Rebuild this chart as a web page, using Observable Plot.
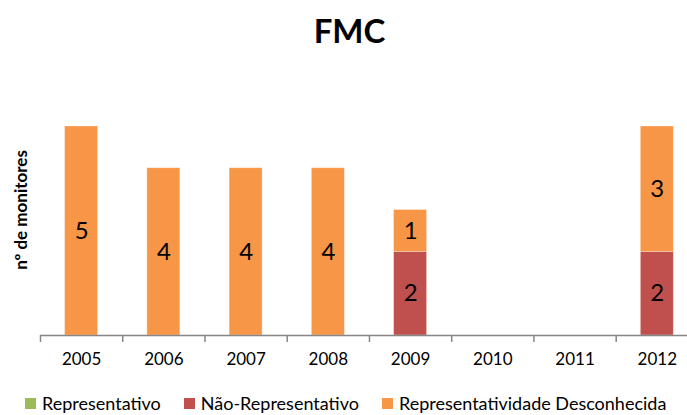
<!DOCTYPE html>
<html>
<head>
<meta charset="utf-8">
<script src="https://cdn.jsdelivr.net/npm/d3@7"></script>
<script src="https://cdn.jsdelivr.net/npm/@observablehq/plot@0.6"></script>
<style>
  body { margin: 0; background: #fff; font-family: Lato, "Open Sans", sans-serif; }
  #wrap { width: 687px; height: 415px; position: relative; overflow: hidden; }
  #title { height: 70px; font-weight: bold; font-size: 33px; color: #000; text-align: center; line-height: 60px; padding-left: 12px; box-sizing: border-box; }
  #ylab { position: absolute; left: 20px; top: 210px; transform: translate(-50%, -50%) rotate(-90deg); font-weight: bold; font-size: 17px; white-space: nowrap; color: #000; }
  #legend { position: absolute; left: 25px; top: 393px; font-size: 18px; line-height: 20px; color: #000; display: flex; align-items: center; white-space: nowrap; }
  #legend .sw { display: inline-block; width: 11px; height: 11px; margin-right: 6px; }
  #legend .it { display: flex; align-items: center; margin-right: 23px; }
</style>
</head>
<body>
<div id="wrap">
  <div id="title">FMC</div>
  <div id="chart"></div>
  <div id="ylab">nº de monitores</div>
  <div id="legend"></div>
</div>
<script>
const years = ["2005", "2006", "2007", "2008", "2009", "2010", "2011", "2012"];
const series = ["Representativo", "Não-Representativo", "Representatividade Desconhecida"];
const colors = ["#9BBB59", "#C0504D", "#F79646"];
const representativo = [0, 0, 0, 0, 0, 0, 0, 0];
const naoRepresentativo = [0, 0, 0, 0, 2, 0, 0, 2];
const desconhecida = [5, 4, 4, 4, 1, 0, 0, 3];

const seriesValues = [representativo, naoRepresentativo, desconhecida];
const rows = [];
series.forEach((s, si) => {
  years.forEach((y, yi) => rows.push({year: y, series: s, value: seriesValues[si][yi]}));
});

const x0 = 40, step = 82.24;
const x1 = x0 + step * years.length;

const chart = Plot.plot({
  width: 687,
  height: 300,
  marginTop: 56,
  marginBottom: 35,
  marginLeft: 40,
  marginRight: 0,
  style: {fontFamily: "Lato, 'Open Sans', sans-serif", background: "#fff", color: "#000"},
  x: {domain: years, range: [x0, x1], paddingInner: 0.6, paddingOuter: 0.3, round: false, label: null},
  y: {domain: [0, 5], axis: null},
  color: {domain: series, range: colors},
  marks: [
    Plot.barY(rows, Plot.stackY({x: "year", y: "value", fill: "series", order: series, stroke: "#fde9d9", strokeWidth: 0.6, strokeOpacity: 0.6})),
    Plot.text(rows.filter(d => d.value > 0), Plot.stackY({x: "year", y: "value", z: "series", order: series, text: d => String(d.value), fontSize: 24, fill: "#000"})),
    Plot.ruleY([0], {stroke: "#868686", strokeWidth: 1.5}),
    Plot.ruleX(years, {x: d => d, dx: -step / 2, y1: () => 0, y2: () => 0, insetTop: 7, stroke: "#868686", strokeWidth: 1.5}),
    Plot.axisX({tickSize: 0, tickPadding: 17, fontSize: 17, label: null})
  ]
});
document.getElementById("chart").appendChild(chart);

const leg = document.getElementById("legend");
series.forEach((s, i) => {
  const it = document.createElement("span");
  it.className = "it";
  const sw = document.createElement("span");
  sw.className = "sw";
  sw.style.background = colors[i];
  it.appendChild(sw);
  it.appendChild(document.createTextNode(s));
  leg.appendChild(it);
});
</script>
</body>
</html>
